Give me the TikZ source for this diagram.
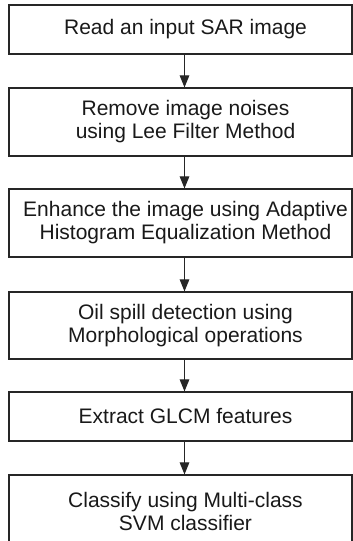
\documentclass[tikz,border=0pt]{standalone}
\usepackage{fontspec}
\setmainfont{Liberation Sans}
\usetikzlibrary{arrows.meta}
\begin{document}
\begin{tikzpicture}[x=1pt,y=1pt,
  box/.style={draw=black!85, line width=1.1pt, minimum width=343pt, inner sep=0pt},
  lbl/.style={align=center, font=\fontsize{21}{23}\selectfont, text=black!90, inner sep=0pt},
  arr/.style={draw=black!85, line width=1.1pt, -{Triangle[width=9.5pt,length=12pt]}}]
\useasboundingbox (0,0) rectangle (353,541);
\clip (0,0) rectangle (353,541);
\node[box, minimum height=49pt] (b1) at (180.5,511.5) {};
\node[box, minimum height=68pt] (b2) at (180.5,419) {};
\node[box, minimum height=68pt] (b3) at (180.5,318) {};
\node[box, minimum height=67pt] (b4) at (180.5,215.5) {};
\node[box, minimum height=49pt] (b5) at (180.5,124.5) {};
\node[box, minimum height=73pt] (b6) at (180.5,29.5) {};
\coordinate (ax) at (184.5,0);
\coordinate (tx) at (185.5,0);
\node[lbl] (t1) at (b1.center -| tx) {Read an input SAR image};
\node[lbl] (t2) at (b2.center -| tx) {Remove image noises\\using Lee Filter Method};
\node[lbl] (t3) at (b3.center -| tx) {Enhance the image using Adaptive\\Histogram Equalization Method};
\node[lbl] (t4) at (b4.center -| tx) {Oil spill detection using\\Morphological operations};
\node[lbl] (t5) at (b5.center -| tx) {Extract GLCM features};
\node[lbl] (t6) at (b6.center -| tx) {Classify using Multi-class\\SVM classifier};
\draw[arr] (b1.south -| ax) -- (b2.north -| ax);
\draw[arr] (b2.south -| ax) -- (b3.north -| ax);
\draw[arr] (b3.south -| ax) -- (b4.north -| ax);
\draw[arr] (b4.south -| ax) -- (b5.north -| ax);
\draw[arr] (b5.south -| ax) -- (b6.north -| ax);
\end{tikzpicture}
\end{document}
